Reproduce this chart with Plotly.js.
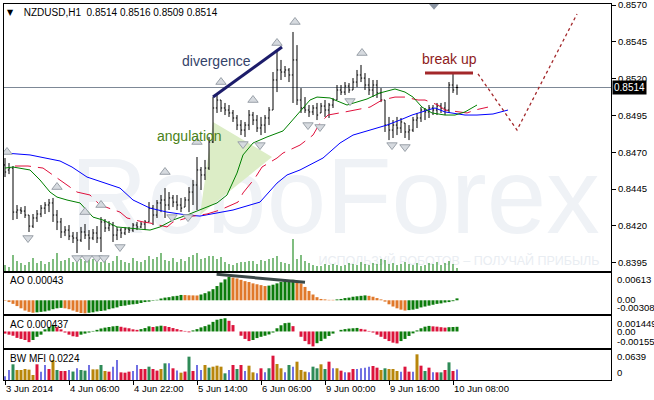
<!DOCTYPE html>
<html><head><meta charset="utf-8">
<script src="https://cdn.plot.ly/plotly-3.0.1.min.js"></script>
<style>html,body{margin:0;padding:0;background:#fff;}#chart{width:654px;height:400px;}</style>
</head><body><div id="chart"></div>
<script>
// ---------- DATA (NZDUSD H1) ----------
const xLabelIdx = [0,16,32,48,64,80,96,112];
const xLabelText = ['3 Jun 2014','4 Jun 06:00','4 Jun 22:00','5 Jun 14:00','6 Jun 06:00','9 Jun 00:00','9 Jun 16:00','10 Jun 08:00'];
const priceTicks = [0.8570,0.8545,0.8520,0.8495,0.8470,0.8445,0.8420,0.8395];

const high = [0.84661,0.84627,0.84607,0.84342,0.84328,0.84335,0.84274,0.84281,0.84308,0.84342,
0.84362,0.84383,0.84390,0.84308,0.84254,0.84199,0.84206,0.84159,0.84159,0.84193,
0.84213,0.84172,0.84179,0.84199,0.84260,0.84247,0.84233,0.84227,0.84193,0.84186,
0.84193,0.84193,0.84220,0.84227,0.84227,0.84240,0.84362,0.84342,0.84376,0.84410,
0.84457,0.84430,0.84410,0.84410,0.84390,0.84396,0.84464,0.84512,0.84668,0.84600,
0.84648,0.84804,0.85075,0.85089,0.85055,0.85035,0.85021,0.84987,0.84953,0.84919,
0.84906,0.84987,0.84974,0.84953,0.84940,0.84953,0.85007,0.85245,0.85395,0.85327,
0.85286,0.85272,0.85517,0.85428,0.85136,0.85075,0.85021,0.85021,0.85035,0.85035,
0.85055,0.85035,0.85069,0.85157,0.85157,0.85177,0.85170,0.85204,0.85259,0.85293,
0.85238,0.85204,0.85191,0.85191,0.85136,0.85055,0.84940,0.84919,0.84940,0.84933,
0.84899,0.84885,0.84940,0.84967,0.85007,0.85001,0.85021,0.85021,0.85035,0.85035,
0.85041,0.85177,0.85238,0.85160];
const low = [0.84532,0.84552,0.84240,0.84247,0.84281,0.84254,0.84159,0.84186,0.84227,0.84260,
0.84281,0.84294,0.84227,0.84172,0.84118,0.84131,0.84104,0.84084,0.84016,0.84091,
0.84111,0.84037,0.84104,0.84084,0.84023,0.84159,0.84165,0.84091,0.84104,0.84118,
0.84138,0.84152,0.84159,0.84172,0.84186,0.84172,0.84227,0.84206,0.84254,0.84294,
0.84254,0.84308,0.84328,0.84308,0.84294,0.84328,0.84294,0.84342,0.84308,0.84444,
0.84512,0.84580,0.84763,0.84967,0.84974,0.84953,0.84940,0.84906,0.84851,0.84817,
0.84804,0.84851,0.84885,0.84838,0.84817,0.84831,0.84885,0.84987,0.85109,0.85191,
0.85211,0.85177,0.85035,0.85021,0.84967,0.84967,0.84940,0.84953,0.84919,0.84967,
0.84940,0.84933,0.85001,0.85055,0.85089,0.85089,0.85103,0.85123,0.85143,0.85177,
0.85123,0.85089,0.85075,0.85069,0.85041,0.84838,0.84783,0.84797,0.84817,0.84831,
0.84797,0.84783,0.84838,0.84865,0.84906,0.84919,0.84933,0.84953,0.84953,0.84967,
0.84953,0.84967,0.85103,0.85090];
const open = [0.84614,0.84580,0.84593,0.84294,0.84308,0.84301,0.84274,0.84199,0.84254,0.84281,
0.84321,0.84342,0.84356,0.84274,0.84227,0.84159,0.84172,0.84131,0.84118,0.84104,
0.84159,0.84138,0.84118,0.84152,0.84118,0.84227,0.84186,0.84206,0.84138,0.84172,
0.84152,0.84179,0.84172,0.84206,0.84193,0.84213,0.84227,0.84321,0.84274,0.84356,
0.84376,0.84342,0.84390,0.84362,0.84342,0.84328,0.84376,0.84430,0.84478,0.84580,
0.84546,0.84593,0.84770,0.85001,0.85055,0.85001,0.84987,0.84967,0.84933,0.84885,
0.84851,0.84885,0.84953,0.84919,0.84865,0.84885,0.84933,0.84987,0.85191,0.85259,
0.85245,0.85259,0.85225,0.85327,0.85055,0.85001,0.84987,0.84974,0.85001,0.84967,
0.85014,0.84987,0.85021,0.85055,0.85123,0.85109,0.85150,0.85123,0.85177,0.85225,
0.85204,0.85157,0.85123,0.85157,0.85103,0.85055,0.84885,0.84851,0.84885,0.84865,
0.84899,0.84838,0.84851,0.84919,0.84933,0.84987,0.84974,0.85001,0.84987,0.85014,
0.85001,0.84987,0.85157,0.85140];
const close = [0.84566,0.84593,0.84294,0.84308,0.84301,0.84274,0.84199,0.84254,0.84281,0.84321,
0.84342,0.84356,0.84274,0.84227,0.84159,0.84172,0.84131,0.84118,0.84104,0.84159,
0.84138,0.84118,0.84152,0.84118,0.84227,0.84186,0.84206,0.84138,0.84172,0.84152,
0.84179,0.84172,0.84206,0.84193,0.84213,0.84227,0.84321,0.84274,0.84356,0.84376,
0.84342,0.84390,0.84362,0.84342,0.84321,0.84376,0.84430,0.84478,0.84580,0.84546,
0.84593,0.84770,0.85001,0.85055,0.85001,0.84987,0.84967,0.84933,0.84885,0.84851,
0.84885,0.84953,0.84919,0.84865,0.84885,0.84933,0.84987,0.85191,0.85259,0.85245,
0.85259,0.85225,0.85327,0.85055,0.85001,0.84987,0.84974,0.85001,0.84953,0.85014,
0.84987,0.85021,0.85055,0.85123,0.85109,0.85150,0.85123,0.85177,0.85225,0.85204,
0.85157,0.85123,0.85157,0.85103,0.85055,0.84885,0.84851,0.84885,0.84865,0.84906,
0.84838,0.84851,0.84919,0.84933,0.84987,0.84974,0.85001,0.84987,0.85014,0.85001,
0.84987,0.85157,0.85123,0.85140];
const volume = [600,400,1600,1000,800,600,900,1300,800,1000,
700,900,1200,1800,1000,1100,1300,900,1500,1200,
1000,1400,1200,1000,900,1100,800,1000,1500,1100,
900,800,1300,1000,900,1100,1500,1200,1400,1800,
1100,1000,1300,900,1200,1000,1400,1600,1800,1200,
1300,1500,1500,1200,1400,900,700,600,800,900,
900,1000,1000,700,1100,1000,1200,1300,1500,900,
800,700,3200,1200,1600,1000,800,600,500,500,
700,600,700,600,500,600,800,700,600,900,
700,600,800,700,1200,1100,700,800,600,700,
900,700,600,800,500,600,800,700,900,600,
800,1000,700,300];

// Alligator (shifted forward): [bar index, price]
const jawX = [0,6.25,13.75,16.75,20.5,26.25,28.75,32,36.25,40.5,45.5,48.75,53,57,63.75,68,70.5,73.75,79.5,83.75,87,90.5,95.5,98.75,101.75,105.75,107.5,110,115,118,122,125.75];
const jawY = [0.84695,0.84682,0.84641,0.84600,0.84532,0.84478,0.84457,0.84376,0.84321,0.84294,0.84274,0.84267,0.84288,0.84308,0.84362,0.84491,0.84546,0.84580,0.84661,0.84763,0.84817,0.84845,0.84885,0.84919,0.84953,0.84987,0.85001,0.84974,0.84953,0.84953,0.84960,0.84987];
const teethX = [2.5,5.75,9.5,12,16.25,18,21.25,23.75,28.75,30.5,34.5,36.25,40.5,42,45.5,47,50.5,53.75,58.25,59.5,62.5,64.25,68,69.5,73.75,77,78.75,80.75,85,87.5,91.25,94.25,97.5,100,103.25,105,108.25,110,113.25,115.5,117.5,120.75];
const teethY = [0.84607,0.84607,0.84593,0.84546,0.84464,0.84430,0.84410,0.84342,0.84294,0.84254,0.84227,0.84220,0.84193,0.84227,0.84254,0.84267,0.84281,0.84308,0.84362,0.84424,0.84525,0.84600,0.84661,0.84695,0.84749,0.84817,0.84899,0.84953,0.84974,0.84987,0.85007,0.85055,0.85075,0.85075,0.85055,0.85055,0.85021,0.84987,0.84974,0.84967,0.84987,0.85007];
const lipsX = [0,2,6.25,8.75,11.25,13,15.5,18.75,22,24.5,28,36.25,38.75,42,45.5,48.75,53,55.5,58,59.5,62,65.5,69.5,71.25,73.75,76.25,78,81.25,85.5,90.5,93.75,97.5,100,102,104.25,106.75,110,112.5,115,118];
const lipsY = [0.84593,0.84600,0.84580,0.84512,0.84430,0.84396,0.84376,0.84356,0.84260,0.84240,0.84193,0.84172,0.84193,0.84240,0.84274,0.84308,0.84356,0.84410,0.84559,0.84682,0.84763,0.84804,0.84845,0.84899,0.84974,0.85055,0.85075,0.85069,0.85021,0.85062,0.85103,0.85130,0.85109,0.85075,0.85007,0.84967,0.84953,0.84953,0.84974,0.85021];

// Fractals
const fracUpX = [0.5,13,20,24,40,48,54,62,68,72.5,89.25];
const fracUpY = [0.84702,0.84464,0.84294,0.84342,0.84566,0.84770,0.85177,0.85055,0.85442,0.85585,0.85374];
const fracDnX = [5.75,18,20.5,23,24.75,28.75,41.75,45.75,59.5,63.75,75.75,78.75,86.25,96.75,100];
const fracDnY = [0.84118,0.83982,0.83982,0.83982,0.83982,0.84057,0.84260,0.84260,0.84756,0.84749,0.84885,0.84872,0.85048,0.84749,0.84736];

// Oscillators
const ao = [-0.00010,-0.00040,-0.00080,-0.00130,-0.00180,-0.00230,-0.00260,-0.00280,-0.00270,-0.00260,
-0.00250,-0.00230,-0.00200,-0.00180,-0.00170,-0.00180,-0.00200,-0.00230,-0.00260,-0.00285,
-0.00292,-0.00280,-0.00270,-0.00250,-0.00240,-0.00230,-0.00200,-0.00180,-0.00160,-0.00130,
-0.00120,-0.00100,-0.00090,-0.00080,-0.00060,-0.00040,-0.00030,-0.00010,0.00010,0.00040,
0.00060,0.00070,0.00090,0.00100,0.00120,0.00118,0.00112,0.00110,0.00108,0.00130,
0.00160,0.00200,0.00250,0.00320,0.00400,0.00470,0.00525,0.00510,0.00490,0.00460,
0.00430,0.00410,0.00380,0.00360,0.00340,0.00320,0.00330,0.00350,0.00380,0.00410,
0.00430,0.00450,0.00460,0.00430,0.00380,0.00300,0.00210,0.00130,0.00070,0.00030,
0.00020,0.00010,0.00010,0.00020,0.00030,0.00050,0.00060,0.00080,0.00090,0.00100,
0.00110,0.00100,0.00080,0.00050,0.00020,-0.00030,-0.00090,-0.00140,-0.00180,-0.00210,
-0.00230,-0.00220,-0.00210,-0.00190,-0.00160,-0.00140,-0.00120,-0.00100,-0.00080,-0.00070,
-0.00050,-0.00040,-0.00020,0.00043];
const ac = [-0.00020,-0.00030,-0.00040,-0.00060,-0.00070,-0.00080,-0.00100,-0.00080,-0.00050,-0.00030,
0.00020,0.00040,0.00060,0.00040,0.00020,-0.00010,-0.00030,-0.00045,-0.00050,-0.00030,
-0.00020,-0.00010,0.00005,0.00015,0.00028,0.00036,0.00042,0.00048,0.00052,0.00044,
0.00036,0.00030,0.00020,0.00015,0.00022,0.00032,0.00048,0.00042,0.00048,0.00054,
0.00050,0.00042,0.00032,0.00022,0.00012,0.00005,-0.00008,0.00010,0.00022,0.00038,
0.00050,0.00064,0.00090,0.00110,0.00118,0.00124,0.00100,0.00060,0.00000,-0.00040,
-0.00070,-0.00090,-0.00080,-0.00062,-0.00050,-0.00040,-0.00028,-0.00010,0.00030,0.00058,
0.00078,0.00082,0.00050,0.00000,-0.00050,-0.00090,-0.00120,-0.00140,-0.00110,-0.00090,
-0.00068,-0.00042,-0.00020,0.00000,0.00015,0.00022,0.00027,0.00030,0.00033,0.00024,
0.00018,0.00005,-0.00010,-0.00030,-0.00050,-0.00070,-0.00090,-0.00105,-0.00112,-0.00090,
-0.00070,-0.00042,-0.00018,0.00010,0.00030,0.00045,0.00052,0.00048,0.00045,0.00040,
0.00036,0.00040,0.00042,0.000437];
const mfi = [0.0080,0.0213,0.0334,0.0213,0.0213,0.0234,0.0220,0.0107,0.0334,0.0178,
0.0320,0.0234,0.0426,0.0213,0.0192,0.0192,0.0213,0.0180,0.0249,0.0213,
0.0200,0.0320,0.0227,0.0227,0.0320,0.0192,0.0178,0.0284,0.0426,0.0163,
0.0156,0.0178,0.0192,0.0320,0.0234,0.0234,0.0284,0.0234,0.0200,0.0234,
0.0355,0.0355,0.0249,0.0200,0.0156,0.0180,0.0497,0.0192,0.0320,0.0213,
0.0320,0.0263,0.0284,0.0305,0.0284,0.0142,0.0213,0.0320,0.0234,0.0320,
0.0192,0.0305,0.0163,0.0142,0.0249,0.0163,0.0250,0.0518,0.0341,0.0249,
0.0163,0.0320,0.0284,0.0390,0.0213,0.0178,0.0163,0.0284,0.0249,0.0334,
0.0234,0.0390,0.0249,0.0249,0.0199,0.0163,0.0163,0.0234,0.0234,0.0249,
0.0263,0.0284,0.0298,0.0263,0.0213,0.0249,0.0234,0.0234,0.0192,0.0178,
0.0284,0.0178,0.0178,0.0547,0.0305,0.0192,0.0263,0.0163,0.0163,0.0163,
0.0213,0.0376,0.0192,0.0224];
// BW MFI bar state: g = green, f = fade, k = fake, s = squat
const mfiState = 'kkgfffffskksfgsskgkggkffgfskkssskkssgssfgkskfsgskkfgfffgksgskffksk gsffkgkfffkgg fgskfsksskkkkssfgfffksskfsgsksgsgsk'.replace(/ /g,'').split('');

// Drawn analysis objects
const divergenceX = [52, 69.25], divergenceY = [0.85075, 0.85415];
const breakUpX = [105, 117], breakUpY = [0.85238, 0.85238];
const forecastX = [118.25, 128, 143], forecastY = [0.85232, 0.84851, 0.85639];
const angulationX = [52, 66.75, 48.75, 52], angulationY = [0.84906, 0.84668, 0.84274, 0.84906];
const aoDivX = [52.9, 75], aoDivY = [0.00584, 0.00404];
const notesText = ['divergence','angulation','break up'];
const notesX = [52.75, 46, 111.1];
const notesY = [0.85320, 0.84811, 0.85333];
const notesColor = ['#34436a','#4a8218','#8e1b1b'];

const aoRange = [-0.00308, 0.00613], acRange = [-0.00155, 0.001449], mfiRange = [0, 0.0639];
const aoLabels = ['0.00613','0.00','-0.00308'], acLabels = ['0.001449','0.00','-0.00155'], mfiLabels = ['0.0639','0'];

// ---------- BUILD ----------
const N = close.length;
const idx = close.map((_, i) => i);
const FONT = 'Arial, "Liberation Sans", sans-serif';
const xr = [-0.25, 151.5];
const yr = [0.83894, 0.85707];

const aoCol = ao.map((v, i) => (i > 0 && v > ao[i-1]) ? '#0c7c0c' : '#e0782a');
const acCol = ac.map((v, i) => (i > 0 && v > ac[i-1]) ? '#0c7c0c' : '#dc143c');
const stateCol = {g:'#2e8b57', f:'#b8860b', k:'#0000cd', s:'#dc143c'};
const mfiCol = mfiState.map(s => stateCol[s] || '#0000cd');
const mfiW = mfiState.map(s => s === 'k' ? 0.28 : 0.75);

const traces = [
  {type:'scatter', mode:'text', x:[82.5], y:[0.84334], text:['RoboForex'], textposition:'middle center',
   textfont:{family:FONT, size:107, color:'#eff2f6'}, xaxis:'x', yaxis:'y', hoverinfo:'skip'},
  {type:'scatter', mode:'text', x:[113.5], y:[0.83955], text:['ИСПОЛЬЗУЙ РОБОТОВ – ПОЛУЧАЙ ПРИБЫЛЬ'], textposition:'middle center',
   textfont:{family:FONT, size:12.5, color:'#e9edf2'}, xaxis:'x', yaxis:'y', hoverinfo:'skip'},
  {type:'scatter', mode:'lines', x:angulationX, y:angulationY, fill:'toself', fillcolor:'#dcedc6',
   line:{width:0, color:'rgba(0,0,0,0)'}, xaxis:'x', yaxis:'y', hoverinfo:'skip'},
  {type:'bar', x:idx, y:volume, width:0.28, marker:{color:'#1e8a1e', line:{width:0}}, xaxis:'x', yaxis:'y5', hoverinfo:'skip'},
  {type:'ohlc', x:idx, open:open, high:high, low:low, close:close, xaxis:'x', yaxis:'y6', tickwidth:0.3,
   increasing:{line:{color:'#000', width:1}}, decreasing:{line:{color:'#000', width:1}}, hoverinfo:'skip'},
  {type:'scatter', mode:'lines', x:jawX, y:jawY, line:{color:'#0000ff', width:1}, xaxis:'x', yaxis:'y6', hoverinfo:'skip'},
  {type:'scatter', mode:'lines', x:teethX, y:teethY, line:{color:'#e0103c', width:1, dash:'16px,7px'}, xaxis:'x', yaxis:'y6', hoverinfo:'skip'},
  {type:'scatter', mode:'lines', x:lipsX, y:lipsY, line:{color:'#008000', width:1}, xaxis:'x', yaxis:'y6', hoverinfo:'skip'},
  {type:'scatter', mode:'markers', x:fracUpX, y:fracUpY, marker:{symbol:'triangle-up', size:9, color:'#d6dadf', line:{color:'#9aa1a9', width:1}}, xaxis:'x', yaxis:'y6', hoverinfo:'skip'},
  {type:'scatter', mode:'markers', x:fracDnX, y:fracDnY, marker:{symbol:'triangle-down', size:9, color:'#d6dadf', line:{color:'#9aa1a9', width:1}}, xaxis:'x', yaxis:'y6', hoverinfo:'skip'},
  {type:'scatter', mode:'lines', x:divergenceX, y:divergenceY, line:{color:'#1c1c6a', width:3}, xaxis:'x', yaxis:'y6', hoverinfo:'skip'},
  {type:'scatter', mode:'lines', x:breakUpX, y:breakUpY, line:{color:'#a3272a', width:3}, xaxis:'x', yaxis:'y6', hoverinfo:'skip'},
  {type:'scatter', mode:'lines', x:forecastX, y:forecastY, line:{color:'#a3272a', width:1.3, dash:'dot'}, xaxis:'x', yaxis:'y6', hoverinfo:'skip'},
  {type:'bar', x:idx, y:ao, width:0.75, marker:{color:aoCol, line:{width:0}}, xaxis:'x2', yaxis:'y2', hoverinfo:'skip'},
  {type:'scatter', mode:'lines', x:aoDivX, y:aoDivY, line:{color:'#3a4848', width:3}, xaxis:'x2', yaxis:'y2', hoverinfo:'skip'},
  {type:'bar', x:idx, y:ac, width:0.75, marker:{color:acCol, line:{width:0}}, xaxis:'x3', yaxis:'y3', hoverinfo:'skip'},
  {type:'bar', x:idx, y:mfi, width:mfiW, marker:{color:mfiCol, line:{width:0}}, xaxis:'x4', yaxis:'y4', hoverinfo:'skip'}
];

const frame = {showline:true, mirror:true, linecolor:'#000', linewidth:1, showgrid:false, zeroline:false, fixedrange:true};
const xbase = Object.assign({}, frame, {range:xr, showticklabels:false, ticks:''});
const dom = {main:[0.2899,1], ao:[0.1755,0.2846], ac:[0.0851,0.1702], bw:[0,0.0798]};

const annotations = [];
const lastTxt = '\u00a0NZDUSD,H1\u00a0\u00a0' + [open[N-1], high[N-1], low[N-1], close[N-1]].map(v => v.toFixed(4)).join(' ');
const txtFont = {family:FONT, size:10, color:'#000'};
const axFont = {family:FONT, size:9.5, color:'#000'};
annotations.push({xref:'paper', yref:'paper', x:0.0115, y:0.9787, text:'▼', showarrow:false, xanchor:'center', yanchor:'middle', font:{family:'DejaVu Sans', size:8, color:'#000'}});
annotations.push({xref:'paper', yref:'paper', x:0.0245, y:0.9787, text:lastTxt, showarrow:false, xanchor:'left', yanchor:'middle', font:txtFont});
annotations.push({xref:'paper', yref:'paper', x:0.0066, y:0.2633, text:'AO ' + ao[N-1].toFixed(5), showarrow:false, xanchor:'left', yanchor:'middle', font:txtFont});
annotations.push({xref:'paper', yref:'paper', x:0.0066, y:0.1463, text:'AC ' + ac[N-1].toFixed(6), showarrow:false, xanchor:'left', yanchor:'middle', font:txtFont});
annotations.push({xref:'paper', yref:'paper', x:0.0066, y:0.0559, text:'BW MFI ' + mfi[N-1].toFixed(4), showarrow:false, xanchor:'left', yanchor:'middle', font:txtFont});
function sideLabels(labels, vals, shifts, yref){
  labels.forEach((t, k) => annotations.push({xref:'paper', yref:yref, x:1, xshift:4, y:vals[k], yshift:shifts[k], text:t, showarrow:false, xanchor:'left', yanchor:'middle', font:axFont}));
}
sideLabels(aoLabels, [aoRange[1], 0, aoRange[0]], [-7, 1, 7], 'y2');
sideLabels(acLabels, [acRange[1], 0, acRange[0]], [-7, 0, 7], 'y3');
sideLabels(mfiLabels, [mfiRange[1], 0], [-7, 7], 'y4');
annotations.push({xref:'paper', yref:'y', x:1, xshift:1, y:close[N-1], text:close[N-1].toFixed(4), showarrow:false, xanchor:'left', yanchor:'middle',
  bgcolor:'#000', borderpad:1, font:{family:FONT, size:10, color:'#fff'}});
notesText.forEach((t, k) => annotations.push({xref:'x', yref:'y', x:notesX[k], y:notesY[k], text:t, showarrow:false, xanchor:'center', yanchor:'middle',
  font:{family:FONT, size:14, color:notesColor[k]}}));

const layout = {
  width:654, height:400, margin:{l:4, r:43, t:4, b:20},
  paper_bgcolor:'#fff', plot_bgcolor:'#fff', showlegend:false, barmode:'overlay', hovermode:false,
  font:{family:FONT, size:10, color:'#000'},
  xaxis: Object.assign({}, xbase, {anchor:'y', rangeslider:{visible:false}}),
  xaxis2: Object.assign({}, xbase, {anchor:'y2'}),
  xaxis3: Object.assign({}, xbase, {anchor:'y3'}),
  xaxis4: Object.assign({}, frame, {anchor:'y4', range:xr, tickmode:'array', tickvals:xLabelIdx, ticktext:xLabelText, tickangle:0,
     ticks:'outside', ticklen:4, tickcolor:'#000', ticklabelposition:'outside right', ticklabeloverflow:'allow', tickfont:axFont}),
  yaxis: Object.assign({}, frame, {domain:dom.main, range:yr, side:'right', anchor:'x', tickmode:'array', tickvals:priceTicks,
     ticktext:priceTicks.map(v => v.toFixed(4)), ticks:'outside', ticklen:4, tickcolor:'#000', ticklabeloverflow:'allow', tickfont:axFont}),
  yaxis5: {overlaying:'y', anchor:'x', range:[0, 26700], visible:false, fixedrange:true},
  yaxis6: {overlaying:'y', anchor:'x', range:yr, visible:false, fixedrange:true},
  yaxis2: Object.assign({}, frame, {domain:dom.ao, range:aoRange, side:'right', anchor:'x2', showticklabels:false, ticks:''}),
  yaxis3: Object.assign({}, frame, {domain:dom.ac, range:acRange, side:'right', anchor:'x3', showticklabels:false, ticks:''}),
  yaxis4: Object.assign({}, frame, {domain:dom.bw, range:mfiRange, side:'right', anchor:'x4', showticklabels:false, ticks:''}),
  annotations: annotations,
  shapes: [
    {type:'line', xref:'paper', yref:'y', x0:0, x1:1, y0:close[N-1], y1:close[N-1], line:{color:'#7d8896', width:1}, layer:'below'},
    {type:'path', xref:'x', yref:'paper', path:'M 106 1 L 108.5 1 L 107.25 0.985 Z', fillcolor:'#8b95a3', line:{width:0}}
  ]
};

Plotly.newPlot('chart', traces, layout, {staticPlot:true, displayModeBar:false});
</script>
</body></html>
